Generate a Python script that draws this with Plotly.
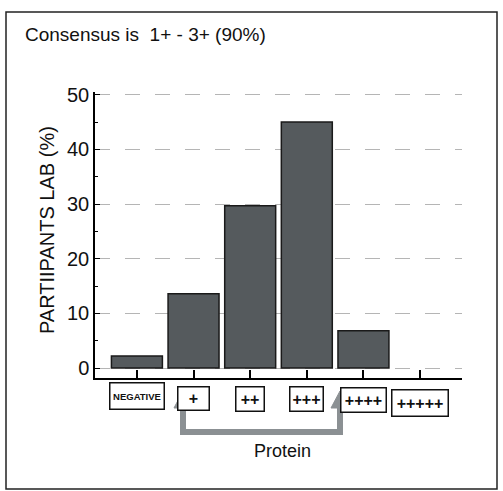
import plotly.graph_objects as go

categories = ["NEGATIVE", "+", "++", "+++", "++++", "+++++"]
participants_pct = [2.2, 13.6, 29.7, 45.0, 6.8, 0.0]
y_tick_vals = [0, 10, 20, 30, 40, 50]
title_text = "Consensus is&nbsp;&nbsp;1+ - 3+ (90%)"
y_title = "PARTIIPANTS LAB (%)"
x_title = "Protein"

W, H = 503, 491
L, R, T, B = 95, 462, 92, 378


def px(x):
    return (x - L) / (R - L)


def py(y):
    return (B - y) / (B - T)


FONT = "Liberation Sans, Arial, sans-serif"

fig = go.Figure()
fig.add_trace(go.Bar(
    x=categories, y=participants_pct, width=0.9,
    marker=dict(color="#555a5d",
                line=dict(color="#1a1a1a", width=[1.5 if v > 0 else 0 for v in participants_pct])),
))

fig.update_layout(
    width=W, height=H,
    margin=dict(l=L, r=W - R, t=T, b=H - B),
    paper_bgcolor="white", plot_bgcolor="white",
    showlegend=False,
    font=dict(family=FONT, color="black"),
    xaxis=dict(
        type="category", range=[-0.74, 5.74],
        showticklabels=False, ticks="inside", ticklen=8, tickwidth=1.5,
        tickcolor="black", showline=True, linecolor="black", linewidth=1.5,
        showgrid=False, zeroline=False,
    ),
    yaxis=dict(
        range=[-1.83, 50.5], tickvals=y_tick_vals, ticks="inside", ticklen=5,
        tickwidth=1.2, tickcolor="black",
        tickfont=dict(size=20, family=FONT, color="#111"),
        showline=True, linecolor="black", linewidth=1.5,
        showgrid=True, gridcolor="#b5b5b5", griddash="longdash", gridwidth=1,
        zeroline=False,
        minor=dict(dtick=5, ticks="inside", ticklen=3, tickcolor="black", showgrid=False),
    ),
)

shapes = []
# outer frame
shapes.append(dict(type="rect", xref="paper", yref="paper",
                   x0=px(6), x1=px(497), y0=py(489), y1=py(12),
                   line=dict(color="#222", width=1.5), layer="below"))
# bracket arrow
ac = "#8b9093"
shapes.append(dict(type="path", xref="paper", yref="paper",
                   path=f"M {px(183)} {py(404)} L {px(183)} {py(432)} L {px(340)} {py(432)} L {px(340)} {py(404)}",
                   line=dict(color=ac, width=6)))
for xc in (183, 340):
    shapes.append(dict(type="path", xref="paper", yref="paper",
                       path=f"M {px(xc-9)} {py(408)} L {px(xc)} {py(391)} L {px(xc+9)} {py(408)} Z",
                       fillcolor=ac, line=dict(color=ac, width=1)))
fig.update_layout(shapes=shapes)

annotations = []
annotations.append(dict(text=title_text, xref="paper", yref="paper",
                        x=px(23), y=py(34), xanchor="left", yanchor="middle",
                        showarrow=False, font=dict(size=19, family=FONT, color="#111")))
annotations.append(dict(text=y_title, xref="paper", yref="paper",
                        x=px(47), y=py(230), xanchor="center", yanchor="middle",
                        textangle=-90, showarrow=False,
                        font=dict(size=20, family=FONT, color="#111")))
annotations.append(dict(text=x_title, xref="paper", yref="paper",
                        x=px(282), y=py(451), xanchor="center", yanchor="middle",
                        showarrow=False, font=dict(size=18, family=FONT, color="#111")))
label_y = [396, 398, 399, 399, 400, 403]
label_w = [53, 30, 27, 32, 44, 55]
label_h = [25, 22, 23, 23, 23, 25]
for i, cat in enumerate(categories):
    is_neg = cat == "NEGATIVE"
    annotations.append(dict(
        text=cat if is_neg else "<b>" + cat + "</b>",
        x=cat, xref="x", yref="paper", y=py(label_y[i]),
        xanchor="center", yanchor="middle", showarrow=False,
        width=label_w[i], height=label_h[i],
        bordercolor="#111", borderwidth=1.5, borderpad=0,
        bgcolor="white",
        font=dict(size=9.5 if is_neg else 16, family=FONT, color="#111",
                  weight=600 if is_neg else 700),
    ))
fig.update_layout(annotations=annotations)

fig.write_html("out.html", config={"displayModeBar": False},
               post_script="document.body.style.margin='0';document.body.style.overflow='hidden';")
